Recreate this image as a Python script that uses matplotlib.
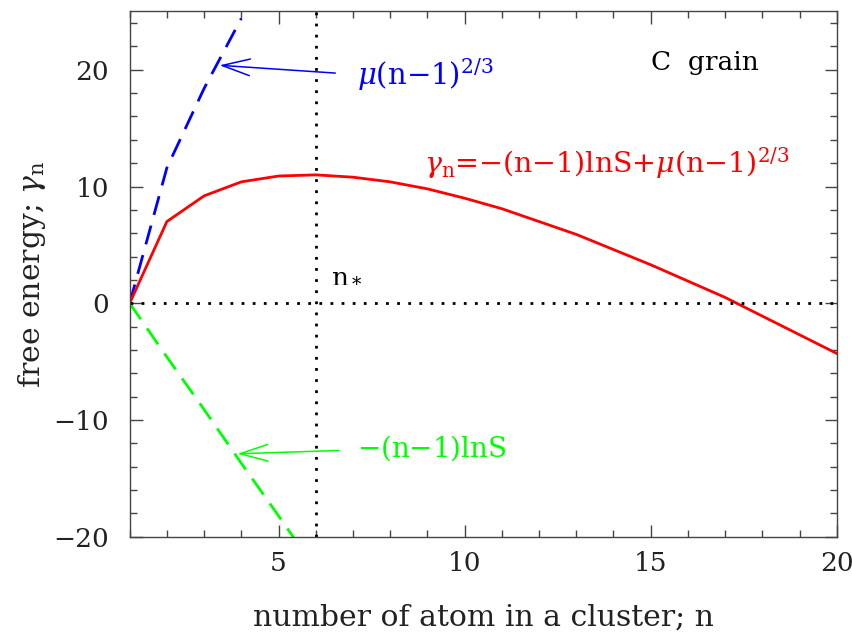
import matplotlib.pyplot as plt
from matplotlib.ticker import MultipleLocator

plt.rcParams['font.family'] = ['DejaVu Serif']
plt.rcParams['mathtext.fontset'] = 'dejavuserif'

# cluster size n and free energy terms
n_all = list(range(1, 21))
gamma_n = [0.0, 7.0, 9.2, 10.4, 10.9, 11.0, 10.8, 10.4, 9.8, 9.0,
           8.1, 7.0, 5.9, 4.6, 3.3, 1.9, 0.5, -1.1, -2.7, -4.3]
n_surf = [1, 2, 3, 4]
surf_term = [0.0, 11.6, 18.4, 24.4]
n_vol = [1, 2, 3, 4, 5, 6]
vol_term = [0.0, -4.6, -9.1, -13.7, -18.2, -22.8]
n_star = 6

fig = plt.figure(figsize=(8.53, 6.33), dpi=100)
ax = fig.add_axes([0.152, 0.152, 0.829, 0.830])

ax.plot(n_surf, surf_term, color='#0000ff', lw=2, dashes=(7, 4))
ax.plot(n_vol, vol_term, color='#00ff00', lw=2, dashes=(7, 4))
ax.plot(n_all, gamma_n, color='#ff0000', lw=2)
ax.axhline(0, color='black', lw=2, ls=(0, (1, 3)))
ax.axvline(n_star, color='black', lw=2, ls=(0, (1, 3)))

ax.set_xlim(1, 20)
ax.set_ylim(-20, 25)
ax.xaxis.set_major_locator(MultipleLocator(5))
ax.xaxis.set_minor_locator(MultipleLocator(1))
ax.yaxis.set_major_locator(MultipleLocator(10))
ax.yaxis.set_minor_locator(MultipleLocator(2))
ax.tick_params(which='both', direction='in', top=True, right=True,
               labelsize=19, color='#444444', labelcolor='#222222')
ax.tick_params(axis='x', pad=10)
ax.tick_params(axis='y', pad=15)
ax.tick_params(which='major', length=9, width=1)
ax.tick_params(which='minor', length=5, width=1)
for s in ax.spines.values():
    s.set_color('#444444')
    s.set_linewidth(1)

ax.set_xlabel('number of atom in a cluster; n', fontsize=21.5, labelpad=20,
              color='#222222')
ax.set_ylabel(r'free energy; $\gamma_{\rm n}$', fontsize=21.5, labelpad=4,
              color='#222222')

# annotations
arrow_style = '->,head_length=2.0,head_width=0.6'
ax.annotate('', xy=(3.34, 20.4), xytext=(6.6, 19.7),
            arrowprops=dict(arrowstyle=arrow_style, color='#0000ff', lw=1.1))
ax.text(7.1, 19.6, r'$\mu$(n$-$1)$^{2/3}$', color='#0000ff', fontsize=21,
        va='center')
ax.annotate('', xy=(3.82, -12.9), xytext=(6.7, -12.6),
            arrowprops=dict(arrowstyle=arrow_style, color='#00ff00', lw=1.1))
ax.text(7.1, -12.4, r'$-$(n$-$1)lnS', color='#00ff00', fontsize=20,
        va='center')
ax.text(8.9, 12.0, r'$\gamma_{\rm n}$=$-$(n$-$1)lnS+$\mu$(n$-$1)$^{2/3}$',
        color='#ff0000', fontsize=20.5, va='center')
ax.text(6.4, 1.8, r'n$_*$', color='black', fontsize=19)
ax.text(15.0, 20.6, 'C  grain', color='black', fontsize=19, va='center')

fig.savefig('out.png', dpi=100)
